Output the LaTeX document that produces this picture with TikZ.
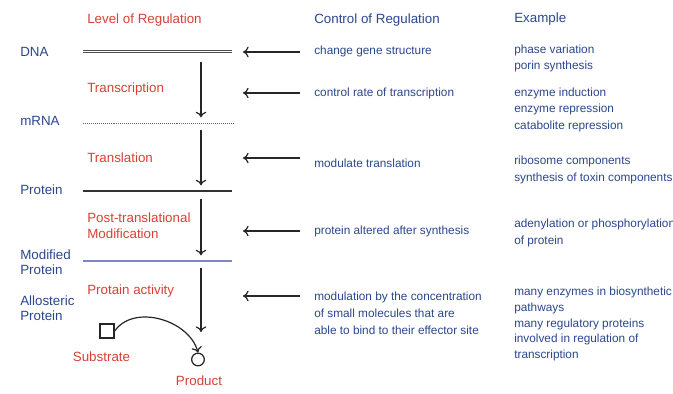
\documentclass[tikz,border=0pt]{standalone}
\usepackage{fontspec}
\setmainfont{Liberation Sans}
\usetikzlibrary{arrows.meta}
\definecolor{regblue}{RGB}{42,70,140}
\definecolor{regred}{RGB}{214,64,54}
\definecolor{modline}{RGB}{128,132,200}
\tikzset{
  txt/.style={anchor=west, inner sep=0pt, align=left,
    font=\fontsize{9.5}{11.6}\selectfont},
  head/.style={txt},
  level/.style={txt, text=regred, font=\fontsize{9.5}{11.4}\selectfont},
  mol/.style={txt, text=regblue, font=\fontsize{9.5}{10.4}\selectfont},
  info/.style={txt, text=regblue, font=\fontsize{8.4}{11.7}\selectfont},
  flow/.style={draw=black!85, line width=0.85pt, -{To[length=4pt,width=7.5pt]}},
}
\begin{document}
\begin{tikzpicture}[x=0.025cm, y=-0.025cm]
  \useasboundingbox (0,0) rectangle (673,394);
  \draw
    (87,20) node[head, text=regred] (hlevel){Level of Regulation}
    (314,20) node[head, text=regblue] (hctrl){Control of Regulation}
    (514,19) node[head, text=regblue] (hexample){Example}
    (20,52) node[mol] (dna){DNA}
    (20,121) node[mol] (mrna){mRNA}
    (20,190) node[mol] (protein){Protein}
    (20,262) node[mol] (modprot){Modified\\Protein}
    (20,308.5) node[mol] (allo){Allosteric\\Protein}
    (87,89) node[level] (transcr){Transcription}
    (87,158) node[level] (transl){Translation}
    (87,226) node[level] (postmod){Post-translational\\Modification}
    (87,291) node[level] (activity){Protain activity}
    (314,51) node[info] (c1){change gene structure}
    (314,93) node[info] (c2){control rate of transcription}
    (314,163) node[info] (c3){modulate translation}
    (314,231) node[info] (c4){protein altered after synthesis}
    (314,313) node[info, font=\fontsize{8.4}{12}\selectfont] (c5){modulation by the concentration\\of small molecules that are\\able to bind to their effector site}
    (514,58.5) node[info] (e1){phase variation\\porin synthesis}
    (514,109.5) node[info] (e2){enzyme induction\\enzyme repression\\catabolite repression}
    (514,170) node[info] (e3){ribosome components\\synthesis of toxin components}
    (514,233) node[info] (e4){adenylation or phosphorylation\\of protein}
    (514,324) node[info, font=\fontsize{8.4}{11.3}\selectfont] (e5){many enzymes in biosynthetic\\pathways\\many regulatory proteins\\involved in regulation of\\transcription}
    (101.5,357) node[level, anchor=center] (substrate){Substrate}
    (199,381) node[level, anchor=center] (product){Product};
  % level lines
  \coordinate (dnaL) at (83,51.5);
  \coordinate (dnaR) at (232,51.5);
  \coordinate (mrnaL) at (83,123);
  \coordinate (mrnaR) at (233,123);
  \coordinate (protL) at (83,191);
  \coordinate (protR) at (232,191);
  \coordinate (modL) at (83,261);
  \coordinate (modR) at (232,261);
  \draw[black!70, line width=0.6pt, double, double distance=1.4pt] (dnaL) -- (dnaR);
  \draw[black!60, line width=0.7pt, dash pattern=on 0.7pt off 0.7pt] (mrnaL) -- (mrnaR);
  \draw[black!80, line width=1pt] (protL) -- (protR);
  \draw[modline, line width=1pt] (modL) -- (modR);
  % flow down
  \coordinate (dnaM) at (201,52);
  \coordinate (mrnaM) at (201,123);
  \coordinate (protM) at (201,191);
  \coordinate (modM) at (201,261);
  \coordinate (actM) at (201,332);
  \begin{scope}[flow]
    \draw[shorten <=7pt, shorten >=4pt] (dnaM) to (mrnaM);
    \draw[shorten <=5pt, shorten >=4pt] (mrnaM) to (protM);
    \draw[shorten <=5.5pt, shorten >=4pt] (protM) to (modM);
    \draw[shorten <=5pt] (modM) to (actM);
  \end{scope}
  % control arrows
  \coordinate (t1) at (300,52);  \coordinate (h1) at (243,52);
  \coordinate (t2) at (300,93);  \coordinate (h2) at (243,93);
  \coordinate (t3) at (300,158); \coordinate (h3) at (243,158);
  \coordinate (t4) at (300,231); \coordinate (h4) at (243,231);
  \coordinate (t5) at (300,296); \coordinate (h5) at (243,296);
  \begin{scope}[flow]
    \draw (t1) to (h1);
    \draw (t2) to (h2);
    \draw (t3) to (h3);
    \draw (t4) to (h4);
    \draw (t5) to (h5);
  \end{scope}
  % substrate to product
  \node[draw=black!85, line width=0.9pt, minimum size=10pt, inner sep=0pt] (sub) at (107,331) {};
  \node[draw=black!85, line width=0.9pt, circle, minimum size=9pt, inner sep=0pt] (prod) at (198,359.5) {};
  \draw[flow] (sub.east) to[out=55, in=105] (prod.north);
\end{tikzpicture}
\end{document}
